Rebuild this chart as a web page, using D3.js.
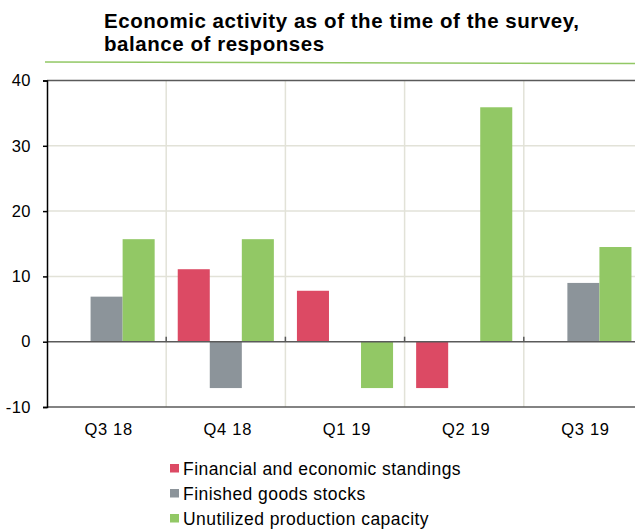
<!DOCTYPE html>
<html>
<head>
<meta charset="UTF-8" />
<style>
  body { margin: 0; background: #ffffff; font-family: "Liberation Sans", Arial, sans-serif; }
  .title { font-weight: bold; font-size: 20.5px; fill: #000; letter-spacing: 0.55px; }
  .y-axis .tick text { font-size: 16.5px; fill: #000; letter-spacing: 0.5px; font-family: "Liberation Sans", Arial, sans-serif; }
  .x-axis .tick text { font-size: 16.5px; fill: #000; letter-spacing: 0.7px; font-family: "Liberation Sans", Arial, sans-serif; }
  .legend text { font-size: 17.5px; fill: #000; letter-spacing: 0.45px; }
</style>
</head>
<body>
<script src="https://d3js.org/d3.v7.min.js"></script>
<script>
const categories = ['Q3 18', 'Q4 18', 'Q1 19', 'Q2 19', 'Q3 19'];
const seriesNames = ['Financial and economic standings', 'Finished goods stocks', 'Unutilized production capacity'];
const financial = [0, 11.1, 7.8, -7.1, 0];
const stocks = [6.9, -7.1, 0, 0, 9.0];
const capacity = [15.7, 15.7, -7.1, 35.9, 14.5];
const yTicks = [-10, 0, 10, 20, 30, 40];
const colors = ['#dc4a64', '#8c949a', '#92c865'];

const series = [financial, stocks, capacity];

const W = 635, H = 531;
const margin = {top: 80.5, left: 47};
const plotW = 596, plotH = 326.5;

const svg = d3.select('body').append('svg')
  .attr('width', W)
  .attr('height', H);

// title
svg.append('text').attr('class', 'title').attr('x', 104).attr('y', 28)
  .text('Economic activity as of the time of the survey,');
svg.append('text').attr('class', 'title').attr('x', 104).attr('y', 51)
  .text('balance of responses');
svg.append('line')
  .attr('x1', 45).attr('x2', 635).attr('y1', 62).attr('y2', 63.5)
  .attr('stroke', '#92c865').attr('stroke-width', 1.5);

const g = svg.append('g').attr('transform', 'translate(' + margin.left + ',' + margin.top + ')');

const x = d3.scaleBand().domain(categories).range([0, plotW]);
const xs = d3.scaleBand().domain(d3.range(series.length)).range([0, x.bandwidth()]).paddingOuter(0.36).paddingInner(0);
const y = d3.scaleLinear().domain([-10, 40]).range([plotH, 0]);

// horizontal grid
g.selectAll('.hgrid').data(yTicks.filter(d => d !== 0 && d !== 40 && d !== -10))
  .enter().append('line')
  .attr('x1', 0).attr('x2', plotW)
  .attr('y1', d => y(d)).attr('y2', d => y(d))
  .attr('stroke', '#e2e2d8').attr('stroke-width', 1.5);

// vertical grid between categories
g.selectAll('.vgrid').data(categories.slice(1))
  .enter().append('line')
  .attr('x1', d => x(d)).attr('x2', d => x(d))
  .attr('y1', 0).attr('y2', plotH)
  .attr('stroke', '#e2e2d8').attr('stroke-width', 1.5);

// top and bottom borders
[40, -10].forEach(v => {
  g.append('line').attr('x1', 0).attr('x2', plotW)
    .attr('y1', y(v)).attr('y2', y(v))
    .attr('stroke', '#5a5a5a').attr('stroke-width', 1.5);
});

// bars
categories.forEach((c, i) => {
  series.forEach((s, j) => {
    const v = s[i];
    if (v === 0) return;
    g.append('rect')
      .attr('x', x(c) + xs(j))
      .attr('width', xs.bandwidth())
      .attr('y', y(Math.max(0, v)))
      .attr('height', Math.abs(y(v) - y(0)))
      .attr('fill', colors[j]);
  });
});

// zero line
g.append('line').attr('x1', 0).attr('x2', plotW)
  .attr('y1', y(0)).attr('y2', y(0))
  .attr('stroke', '#5a5a5a').attr('stroke-width', 1.5);
g.selectAll('.ztick').data(categories.slice(1))
  .enter().append('line')
  .attr('x1', d => x(d)).attr('x2', d => x(d))
  .attr('y1', y(0) - 5).attr('y2', y(0))
  .attr('stroke', '#5a5a5a').attr('stroke-width', 1.5);

// y axis
const yAxis = g.append('g').attr('class', 'y-axis')
  .call(d3.axisLeft(y).tickValues(yTicks).tickSize(4).tickPadding(12).tickFormat(d => String(d)));
yAxis.attr('font-family', null).attr('font-size', null);
yAxis.select('.domain').attr('stroke', '#000').attr('stroke-width', 1.5);
yAxis.selectAll('.tick line').attr('stroke', '#000').attr('stroke-width', 1.5);

// x axis labels
const xAxis = g.append('g').attr('class', 'x-axis')
  .attr('transform', 'translate(0,' + plotH + ')')
  .call(d3.axisBottom(x).tickSize(0).tickPadding(16));
xAxis.attr('font-family', null).attr('font-size', null);
xAxis.select('.domain').remove();
xAxis.selectAll('.tick text').attr('dx', '2px');

// legend
const legend = svg.append('g').attr('class', 'legend').attr('transform', 'translate(170,463)');
seriesNames.forEach((name, i) => {
  const row = legend.append('g').attr('transform', 'translate(0,' + (i * 25) + ')');
  row.append('rect').attr('width', 9).attr('height', 8.5).attr('y', 1).attr('fill', colors[i]);
  row.append('text').attr('x', 13).attr('y', 12).text(name);
});
</script>
</body>
</html>
